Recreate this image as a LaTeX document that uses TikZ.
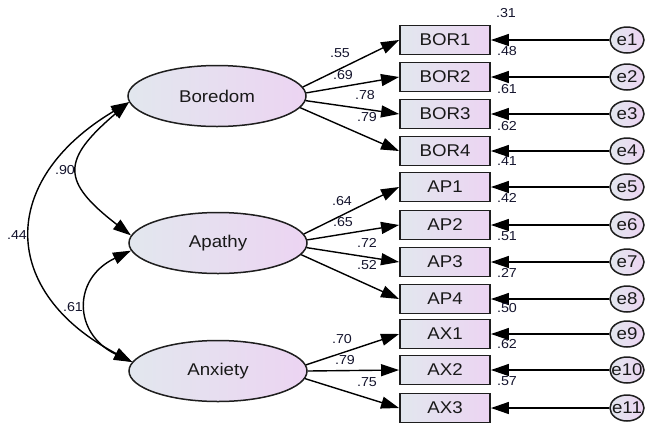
\documentclass[tikz,border=0pt]{standalone}
\usepackage{fontspec}
\setmainfont{Liberation Sans}[FakeStretch=1.1]
\usetikzlibrary{arrows.meta,shapes.geometric}
\definecolor{gl}{RGB}{226,231,238}
\definecolor{gr}{RGB}{236,212,242}
\definecolor{edgec}{RGB}{30,30,30}
\definecolor{labc}{RGB}{20,20,45}
\begin{document}
\begin{tikzpicture}[x=1pt,y=-1pt,
  lat/.style={ellipse, draw=edgec, line width=1.5pt, left color=gl, right color=gr,
    minimum width=178pt, minimum height=61pt, inner sep=0pt, text=black!90,
    font=\fontsize{17}{17}\selectfont},
  obs/.style={rectangle, draw=edgec, line width=1.9pt, left color=gl, right color=gr,
    minimum width=90pt, minimum height=29pt, inner sep=0pt, text=black!90,
    font=\fontsize{17}{17}\selectfont},
  err/.style={ellipse, draw=edgec, line width=1.5pt, left color=gl, right color=gr,
    minimum width=34pt, minimum height=26pt, inner sep=0pt},
  errtxt/.style={inner sep=0pt, text=black!90, font=\fontsize{17}{17}\selectfont},
  pth/.style={line width=1.4pt, -{Triangle[length=18pt,width=12pt]}},
  cov/.style={line width=1.4pt, {Triangle[length=18pt,width=12pt]}-{Triangle[length=18pt,width=12pt]}},
  lab/.style={inner sep=0pt, text=labc, font=\fontsize{13}{13}\selectfont}
]
\useasboundingbox (0,0) rectangle (645,424);

% latent variables
\node[lat] (bor) at (217,96) {Boredom};
\node[lat] (apa) at (218,243) {Apathy};
\node[lat] (anx) at (218,371) {Anxiety};

% observed variables
\node[obs] (b1) at (445,40) {BOR1};
\node[obs] (b2) at (445,77) {BOR2};
\node[obs] (b3) at (445,114) {BOR3};
\node[obs] (b4) at (445,151) {BOR4};
\node[obs] (p1) at (445,187) {AP1};
\node[obs] (p2) at (445,225) {AP2};
\node[obs] (p3) at (445,262) {AP3};
\node[obs] (p4) at (445,299) {AP4};
\node[obs] (x1) at (445,334) {AX1};
\node[obs] (x2) at (445,370) {AX2};
\node[obs] (x3) at (445,408) {AX3};

% error terms
\node[err, label={[errtxt]center:e1}] (e1) at (627,40) {};
\node[err, label={[errtxt]center:e2}] (e2) at (627,77) {};
\node[err, label={[errtxt]center:e3}] (e3) at (627,114) {};
\node[err, label={[errtxt]center:e4}] (e4) at (627,151) {};
\node[err, label={[errtxt]center:e5}] (e5) at (627,187) {};
\node[err, label={[errtxt]center:e6}] (e6) at (627,225) {};
\node[err, label={[errtxt]center:e7}] (e7) at (627,262) {};
\node[err, label={[errtxt]center:e8}] (e8) at (627,299) {};
\node[err, label={[errtxt]center:e9}] (e9) at (627,334) {};
\node[err, label={[errtxt]center:e10}] (e10) at (627,370) {};
\node[err, label={[errtxt]center:e11}] (e11) at (627,408) {};

% loadings
\draw[pth] (bor.6) -- (b1.west);
\draw[pth] (bor.2) -- (b2.west);
\draw[pth] (bor.-3) -- (b3.west);
\draw[pth] (bor.-8) -- (b4.west);
\draw[pth] (apa.6) -- (p1.west);
\draw[pth] (apa.2) -- (p2.west);
\draw[pth] (apa.-3) -- (p3.west);
\draw[pth] (apa.-8) -- (p4.west);
\draw[pth] (anx.4) -- (x1.west);
\draw[pth] (anx.0) -- (x2.west);
\draw[pth] (anx.-5) -- (x3.west);

% error paths
\draw[pth] (e1) -- (b1.east);
\draw[pth] (e2) -- (b2.east);
\draw[pth] (e3) -- (b3.east);
\draw[pth] (e4) -- (b4.east);
\draw[pth] (e5) -- (p1.east);
\draw[pth] (e6) -- (p2.east);
\draw[pth] (e7) -- (p3.east);
\draw[pth] (e8) -- (p4.east);
\draw[pth] (e9) -- (x1.east);
\draw[pth] (e10) -- (x2.east);
\draw[pth] (e11) -- (x3.east);

% covariances
\draw[cov] (bor.184) .. controls +(-131,78) and +(-133,-70) .. (anx.174);
\draw[cov] (bor.184) .. controls +(-68,58) and +(-70,-54) .. (apa.175);
\draw[cov] (apa.185) .. controls +(-59,28) and +(-59,-28) .. (anx.174);

% covariance labels
\node[lab] (c1) at (65,170) {.90};
\node[lab] (c2) at (17,235) {.44};
\node[lab] (c3) at (73,307) {.61};

% loading labels
\node[lab] (l1) at (340,53) {.55};
\node[lab] (l2) at (343,75) {.69};
\node[lab] (l3) at (365,95) {.78};
\node[lab] (l4) at (367,117) {.79};
\node[lab] (l5) at (342,201) {.64};
\node[lab] (l6) at (343,222) {.65};
\node[lab] (l7) at (367,243) {.72};
\node[lab] (l8) at (367,265) {.52};
\node[lab] (l9) at (342,339) {.70};
\node[lab] (l10) at (345,360) {.79};
\node[lab] (l11) at (367,382) {.75};

% squared multiple correlations
\node[lab] (r1) at (506,13) {.31};
\node[lab] (r2) at (507,51) {.48};
\node[lab] (r3) at (507,89) {.61};
\node[lab] (r4) at (507,126) {.62};
\node[lab] (r5) at (507,161) {.41};
\node[lab] (r6) at (507,198) {.42};
\node[lab] (r7) at (507,236) {.51};
\node[lab] (r8) at (507,273) {.27};
\node[lab] (r9) at (507,308) {.50};
\node[lab] (r10) at (507,344) {.62};
\node[lab] (r11) at (507,381) {.57};
\end{tikzpicture}
\end{document}
